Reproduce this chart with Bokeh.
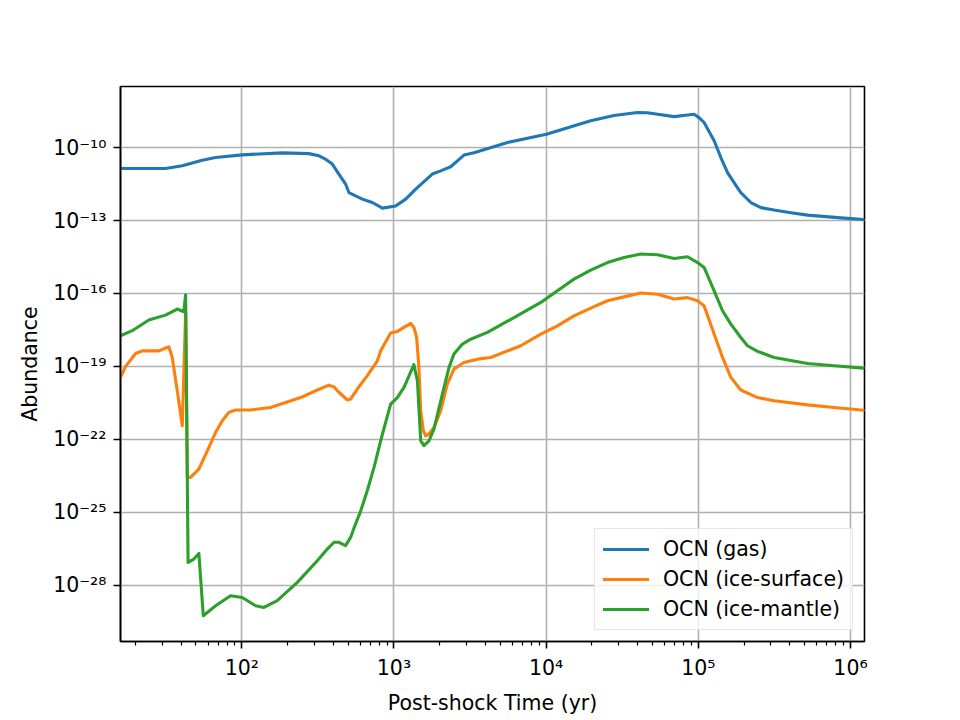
import numpy as np
from bokeh.plotting import figure
from bokeh.models import Range1d, FixedTicker, Legend, LegendItem, CustomJSTickFormatter
from bokeh.embed import file_html
from bokeh.resources import INLINE

# ---- data (log10 of time in yr, log10 of abundance) ----
gas_log_t = [1.203, 1.499, 1.609, 1.740, 1.828, 2.003, 2.266, 2.441, 2.507, 2.551,
             2.595, 2.638, 2.682, 2.704, 2.748, 2.792, 2.858, 2.924, 3.011, 3.077,
             3.143, 3.252, 3.307, 3.373, 3.417, 3.460, 3.526, 3.746, 4.002, 4.293,
             4.446, 4.600, 4.666, 4.732, 4.841, 4.929, 4.972, 5.005, 5.038, 5.104,
             5.148, 5.192, 5.235, 5.279, 5.345, 5.411, 5.498, 5.608, 5.718, 5.937,
             6.086]
gas_log_x = [-10.86, -10.86, -10.75, -10.52, -10.41, -10.30, -10.22, -10.25, -10.34, -10.48,
             -10.68, -11.09, -11.50, -11.85, -11.99, -12.12, -12.26, -12.49, -12.40, -12.12,
             -11.71, -11.09, -10.96, -10.79, -10.55, -10.31, -10.21, -9.79, -9.45, -8.90,
             -8.68, -8.56, -8.57, -8.63, -8.73, -8.66, -8.63, -8.77, -8.97, -9.72,
             -10.41, -11.03, -11.44, -11.85, -12.26, -12.47, -12.57, -12.68, -12.78, -12.89,
             -12.96]

surf_log_t = [1.203, 1.236, 1.302, 1.346, 1.455, 1.521, 1.543, 1.576, 1.609, 1.631,
              1.642, 1.663, 1.718, 1.784, 1.828, 1.872, 1.915, 1.959, 2.058, 2.189,
              2.387, 2.496, 2.573, 2.606, 2.628, 2.694, 2.715, 2.759, 2.825, 2.891,
              2.913, 2.978, 3.022, 3.110, 3.131, 3.149, 3.164, 3.176, 3.193, 3.208,
              3.230, 3.263, 3.307, 3.351, 3.394, 3.460, 3.548, 3.636, 3.833, 3.965,
              4.074, 4.183, 4.293, 4.403, 4.512, 4.622, 4.732, 4.841, 4.929, 4.995,
              5.038, 5.104, 5.159, 5.214, 5.279, 5.389, 5.498, 5.718, 5.893, 6.086]
surf_log_x = [-19.45, -19.01, -18.47, -18.36, -18.36, -18.19, -18.63, -20.00, -21.44, -16.75,
              -23.56, -23.56, -23.22, -22.33, -21.71, -21.23, -20.89, -20.79, -20.79, -20.69,
              -20.28, -19.97, -19.77, -19.84, -20.00, -20.38, -20.34, -19.93, -19.38, -18.77,
              -18.36, -17.63, -17.56, -17.23, -17.40, -17.81, -19.04, -20.82, -21.64, -21.85,
              -21.78, -21.51, -20.82, -19.72, -19.11, -18.84, -18.70, -18.63, -18.15, -17.67,
              -17.33, -16.92, -16.60, -16.30, -16.14, -15.98, -16.03, -16.23, -16.17, -16.30,
              -16.51, -17.67, -18.63, -19.45, -19.97, -20.28, -20.41, -20.58, -20.69, -20.80]

mant_log_t = [1.203, 1.280, 1.389, 1.499, 1.576, 1.619, 1.631, 1.647, 1.685, 1.718,
              1.747, 1.828, 1.926, 2.003, 2.091, 2.145, 2.233, 2.365, 2.496, 2.562,
              2.606, 2.638, 2.682, 2.715, 2.737, 2.781, 2.825, 2.869, 2.913, 2.956,
              2.978, 3.022, 3.066, 3.131, 3.154, 3.176, 3.197, 3.230, 3.263, 3.329,
              3.362, 3.394, 3.450, 3.504, 3.614, 3.789, 3.965, 4.074, 4.183, 4.293,
              4.403, 4.512, 4.622, 4.732, 4.841, 4.929, 4.995, 5.038, 5.104, 5.159,
              5.214, 5.279, 5.323, 5.389, 5.498, 5.718, 5.893, 6.086]
mant_log_x = [-17.74, -17.53, -17.09, -16.89, -16.64, -16.75, -16.05, -27.06, -26.92, -26.69,
              -29.25, -28.84, -28.43, -28.50, -28.84, -28.91, -28.63, -27.88, -26.99, -26.51,
              -26.23, -26.23, -26.37, -26.03, -25.65, -24.95, -24.10, -23.15, -22.05, -21.05,
              -20.55, -20.28, -19.86, -18.93, -19.59, -22.06, -22.26, -22.06, -21.57, -19.86,
              -19.04, -18.49, -18.08, -17.88, -17.60, -16.99, -16.37, -15.89, -15.41, -15.04,
              -14.73, -14.52, -14.38, -14.41, -14.56, -14.49, -14.73, -14.93, -15.89, -16.71,
              -17.26, -17.81, -18.15, -18.38, -18.63, -18.88, -18.97, -19.07]

series_names = ["OCN (gas)", "OCN (ice-surface)", "OCN (ice-mantle)"]
series_colors = ["#1f77b4", "#ff7f0e", "#2ca02c"]

x_limits_log = (1.203, 6.092)
y_limits_log = (-30.31, -7.49)
x_major_exp = [2, 3, 4, 5, 6]
y_major_exp = [-28, -25, -22, -19, -16, -13, -10]

FONT = "DejaVu Sans"
FS = "20.5px"

p = figure(x_axis_type="log", y_axis_type="log",
           frame_width=744, frame_height=555,
           min_border_left=120, min_border_right=96,
           min_border_top=86, min_border_bottom=79,
           output_backend="svg", toolbar_location=None,
           x_range=Range1d(10 ** x_limits_log[0], 10 ** x_limits_log[1]),
           y_range=Range1d(10 ** y_limits_log[0], 10 ** y_limits_log[1]))
p.background_fill_color = "white"
p.border_fill_color = "white"
p.outline_line_color = "black"
p.outline_line_width = 1.6

renderers = []
for lt, lx, c in [(gas_log_t, gas_log_x, series_colors[0]),
                  (surf_log_t, surf_log_x, series_colors[1]),
                  (mant_log_t, mant_log_x, series_colors[2])]:
    r = p.line(10 ** np.array(lt), 10 ** np.array(lx), line_color=c,
               line_width=3.1, line_join="round", line_cap="round")
    renderers.append(r)

x_minor = [k * 10.0 ** n for n in range(1, 7) for k in range(2, 10)]
p.xaxis.ticker = FixedTicker(ticks=[10.0 ** e for e in x_major_exp], minor_ticks=x_minor)
p.yaxis.ticker = FixedTicker(ticks=[10.0 ** e for e in y_major_exp], minor_ticks=[])

fmt = CustomJSTickFormatter(code="""
const sup = {'-':'\u207b','0':'\u2070','1':'\u00b9','2':'\u00b2','3':'\u00b3','4':'\u2074',
             '5':'\u2075','6':'\u2076','7':'\u2077','8':'\u2078','9':'\u2079'};
const e = Math.round(Math.log10(tick));
return '10' + String(e).split('').map(c => sup[c]).join('');
""")
for ax in (p.xaxis[0], p.yaxis[0]):
    ax.formatter = fmt
    ax.major_label_text_font = FONT
    ax.major_label_text_font_size = FS
    ax.major_label_text_color = "black"
    ax.axis_label_text_font = FONT
    ax.axis_label_text_font_size = FS
    ax.axis_label_text_font_style = "normal"
    ax.axis_label_text_color = "black"
    ax.axis_line_color = "black"
    ax.axis_line_width = 1.6
    ax.major_tick_line_color = "black"
    ax.major_tick_line_width = 1.6
    ax.major_tick_out = 7
    ax.major_tick_in = 0
    ax.minor_tick_line_color = "black"
    ax.minor_tick_line_width = 1.2
    ax.minor_tick_out = 4
    ax.minor_tick_in = 0
    ax.major_label_standoff = 7
    ax.axis_label_standoff = 8

p.xaxis.axis_label = "Post-shock Time (yr)"
p.yaxis.axis_label = "Abundance"

p.xgrid.ticker = p.xaxis[0].ticker
p.ygrid.ticker = p.yaxis[0].ticker
for g in (p.xgrid[0], p.ygrid[0]):
    g.grid_line_color = "#b0b0b0"
    g.grid_line_width = 1.6
    g.grid_line_alpha = 1.0

legend = Legend(items=[LegendItem(label=n, renderers=[r]) for n, r in zip(series_names, renderers)],
                location="bottom_right")
legend.label_text_font = FONT
legend.label_text_font_size = FS
legend.label_text_color = "black"
legend.glyph_width = 46
legend.glyph_height = 24
legend.label_height = 24
legend.label_standoff = 14
legend.spacing = 6
legend.padding = 8
legend.margin = 11
legend.border_line_color = "#cccccc"
legend.border_line_width = 1
legend.background_fill_color = "white"
legend.background_fill_alpha = 0.8
p.add_layout(legend)

open("out.html", "w").write(file_html(p, INLINE))
